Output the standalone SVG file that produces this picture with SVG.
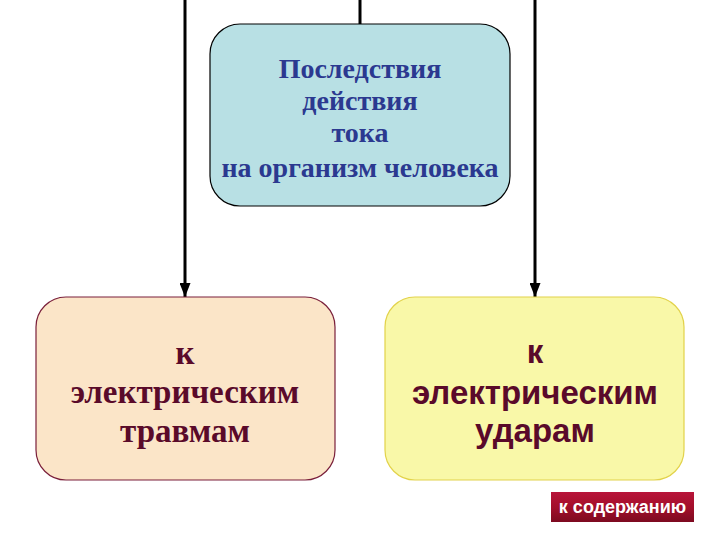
<svg xmlns="http://www.w3.org/2000/svg" width="720" height="540" viewBox="0 0 720 540">
<defs>
<style>
.conn{stroke:#000;stroke-width:3;fill:none}
.serif{font-family:"Liberation Serif","Times New Roman",serif;font-weight:bold;text-anchor:middle}
.sans{font-family:"Liberation Sans",Arial,sans-serif;font-weight:bold;text-anchor:middle}
</style>
<marker id="arr" markerWidth="14" markerHeight="11" refX="14" refY="5.5" orient="auto" markerUnits="userSpaceOnUse" viewBox="0 0 14 11">
<path d="M0,0 L14,5.5 L0,11 Z" fill="#000"/>
</marker>
<linearGradient id="btn" x1="0" y1="0" x2="0" y2="1">
<stop offset="0" stop-color="#b8143a"/>
<stop offset="0.5" stop-color="#a30f2b"/>
<stop offset="1" stop-color="#7d0a20"/>
</linearGradient>
</defs>
<rect width="720" height="540" fill="#fff"/>
<g id="connectors">
<line class="conn" x1="185" y1="-2" x2="535" y2="-2"/>
<line class="conn" x1="360" y1="0" x2="360" y2="24"/>
<line class="conn" x1="185" y1="-2" x2="185" y2="297" marker-end="url(#arr)"/>
<line class="conn" x1="535" y1="-2" x2="535" y2="297" marker-end="url(#arr)"/>
</g>
<g id="top">
<rect x="210" y="24" width="300" height="182" rx="30" fill="#b8e0e4" stroke="#000" stroke-width="1.2"/>
<g class="serif" font-size="28" fill="#2b3990">
<text x="360" y="78">Последствия</text>
<text x="360" y="110">действия</text>
<text x="360" y="142">тока</text>
<text x="360" y="177">на организм человека</text>
</g>
</g>
<g id="left">
<rect x="36" y="297" width="299" height="183" rx="30" fill="#fbe5c8" stroke="#7a1f3a" stroke-width="1.2"/>
<g class="serif" font-size="33" fill="#5a0a2a">
<text x="185" y="364">к</text>
<text x="185" y="403">электрическим</text>
<text x="185" y="442">травмам</text>
</g>
</g>
<g id="right">
<rect x="385" y="297" width="299" height="183" rx="30" fill="#f9f8a8" stroke="#e2d24a" stroke-width="1.2"/>
<g class="sans" font-size="33" fill="#5a0a2a">
<text x="535" y="363">к</text>
<text x="535" y="404">электрическим</text>
<text x="535" y="442">ударам</text>
</g>
</g>
<g id="button">
<rect x="551" y="492" width="143" height="30" fill="url(#btn)"/>
<text class="sans" x="622.5" y="513" font-size="18" fill="#fff">к содержанию</text>
</g>
</svg>
